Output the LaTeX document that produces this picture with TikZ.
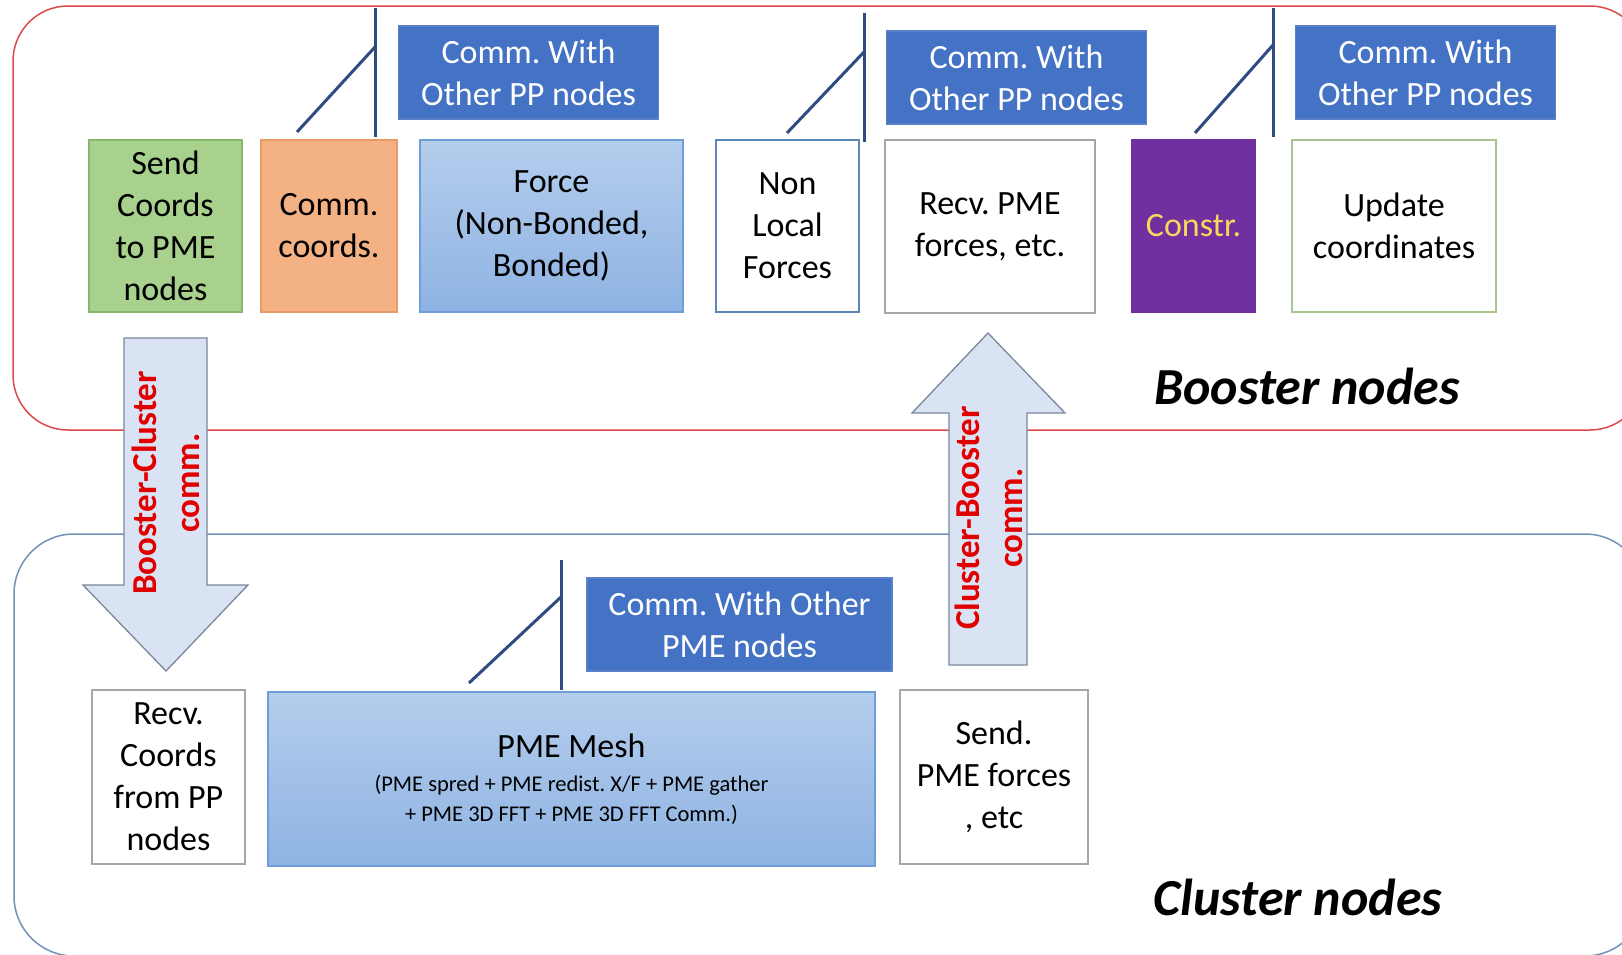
\documentclass[tikz,border=0pt]{standalone}
\usepackage{fontspec}
\setmainfont{Carlito}
\frenchspacing
\definecolor{commblue}{HTML}{4472C4}
\definecolor{commedge}{HTML}{5A82CA}
\definecolor{leader}{HTML}{2E4C82}
\definecolor{greenfill}{HTML}{A9D18E}
\definecolor{greenedge}{HTML}{86B86A}
\definecolor{orangefill}{HTML}{F4B183}
\definecolor{orangeedge}{HTML}{E99A68}
\definecolor{meshtop}{HTML}{B4CDEC}
\definecolor{meshbot}{HTML}{8EB3E3}
\definecolor{meshedge}{HTML}{6E9DD8}
\definecolor{purplefill}{HTML}{7030A0}
\definecolor{goldtext}{HTML}{F9D65C}
\definecolor{greyedge}{HTML}{A6A6A6}
\definecolor{blueedge}{HTML}{5B87B8}
\definecolor{olivedge}{HTML}{A9C48E}
\definecolor{arrowfill}{HTML}{DAE3F3}
\definecolor{arrowedge}{HTML}{7A8899}
\definecolor{arrowtext}{HTML}{E00000}
\definecolor{boosteredge}{HTML}{DD4A4A}
\definecolor{clusteredge}{HTML}{7391B8}
\begin{document}
\begin{tikzpicture}[x=1pt,y=-1pt,
  wh/.style 2 args={minimum width=#1, minimum height=#2},
  box/.style={draw, line width=1.3pt, inner sep=0pt, align=center,
    font=\fontsize{34}{42}\selectfont, text=black},
  commbox/.style={box, fill=commblue, draw=commedge, text=white, wh={260}{93}},
  meshbox/.style={box, top color=meshtop, bottom color=meshbot, draw=meshedge},
  plainbox/.style={box, fill=white},
  leaderline/.style={draw=leader, line width=3pt},
  blockarrow/.style={fill=arrowfill, draw=arrowedge, line width=1.3pt, line join=miter},
  arrowlabel/.style={align=center, text=arrowtext, inner sep=0pt,
    font=\fontsize{35}{43}\selectfont\bfseries},
  panellabel/.style={inner sep=0pt, font=\fontsize{52}{62}\selectfont\bfseries\itshape}
]
\useasboundingbox (0,0) rectangle (1622,954);
\clip (0,0) rectangle (1622,954);

% the two node groups
\draw[boosteredge, line width=1.5pt, rounded corners=55pt] (13,6) rectangle (1645,430);
\draw[clusteredge, line width=1.5pt, rounded corners=60pt] (14,534) rectangle (1645,956);

% booster row
\node[box, fill=greenfill, draw=greenedge, wh={153}{172}] (send) at (165.5,226) {Send\\Coords\\to PME\\nodes};
\node[box, fill=orangefill, draw=orangeedge, wh={136}{172}] (commc) at (329,226) {Comm.\\coords.};
\node[meshbox, wh={263}{172}] (force) at (551.5,226) {Force\\(Non-Bonded,\\Bonded)};
\node[plainbox, draw=blueedge, wh={143}{172}] (nonlocal) at (787.5,226) {Non\\Local\\Forces};
\node[plainbox, draw=greyedge, wh={210}{173}] (recvpme) at (990,226.5) {Recv. PME\\forces, etc.};
\node[box, fill=purplefill, draw=purplefill, text=goldtext, wh={123}{172}] (constr) at (1193.5,226) {Constr.};
\node[plainbox, draw=olivedge, wh={204}{172}] (update) at (1394,226) {Update\\coordinates};

% communication callouts, booster side
\node[commbox] (commA) at (528.5,72.5) {Comm. With\\Other PP nodes};
\node[commbox] (commB) at (1016.5,77.5) {Comm. With\\Other PP nodes};
\node[commbox] (commC) at (1425.5,72.5) {Comm. With\\Other PP nodes};

\coordinate (barAtop) at (375,8);    \coordinate (barAbot) at (375,137);
\coordinate (barAknee) at (375,47);  \coordinate (barAtip) at (297,132);
\coordinate (barBtop) at (864,13);   \coordinate (barBbot) at (864,142);
\coordinate (barBknee) at (864,52);  \coordinate (barBtip) at (787,133);
\coordinate (barCtop) at (1273,8);   \coordinate (barCbot) at (1273,137);
\coordinate (barCknee) at (1273,45); \coordinate (barCtip) at (1195,133);
\draw[leaderline] (barAtop) -- (barAbot);
\draw[leaderline] (barAknee) -- (barAtip);
\draw[leaderline] (barBtop) -- (barBbot);
\draw[leaderline] (barBknee) -- (barBtip);
\draw[leaderline] (barCtop) -- (barCbot);
\draw[leaderline] (barCknee) -- (barCtip);

% cluster row
\node[plainbox, draw=greyedge, wh={153}{174}] (recvc) at (168.5,777) {Recv.\\Coords\\from PP\\nodes};
\node[meshbox, wh={607}{174}, font=\fontsize{34}{34}\selectfont] (mesh) at (571.5,779)
  {PME Mesh\\{\fontsize{22.5}{29}\selectfont (PME spred + PME redist. X/F + PME gather}\\[-4pt]{\fontsize{22.5}{29}\selectfont + PME 3D FFT + PME 3D FFT Comm.)}};
\node[plainbox, draw=greyedge, wh={188}{174}] (sendpme) at (994,777) {Send.\\PME forces\\, etc};

\node[commbox, wh={305}{93}] (commD) at (739.5,624.5) {Comm. With Other\\PME nodes};
\coordinate (barDtop) at (561,560);  \coordinate (barDbot) at (561,690);
\coordinate (barDknee) at (561,597); \coordinate (barDtip) at (469,683);
\draw[leaderline] (barDtop) -- (barDbot);
\draw[leaderline] (barDknee) -- (barDtip);

% block arrows between the groups
\draw[blockarrow] (124,338) -- (207,338) -- (207,585) -- (248,585) -- (166,671)
  -- (83,585) -- (124,585) -- cycle;
\node[arrowlabel, rotate=90] (bcomm) at (166,483) {Booster-Cluster\\comm.};
\draw[blockarrow] (949,665) -- (1027,665) -- (1027,413) -- (1065,413) -- (988,333)
  -- (912,413) -- (949,413) -- cycle;
\node[arrowlabel, rotate=90] (ccomm) at (989,518) {Cluster-Booster\\comm.};

% group labels
\node[panellabel] (boosterlabel) at (1307,386) {Booster nodes};
\node[panellabel] (clusterlabel) at (1298,897) {Cluster nodes};
\end{tikzpicture}
\end{document}
